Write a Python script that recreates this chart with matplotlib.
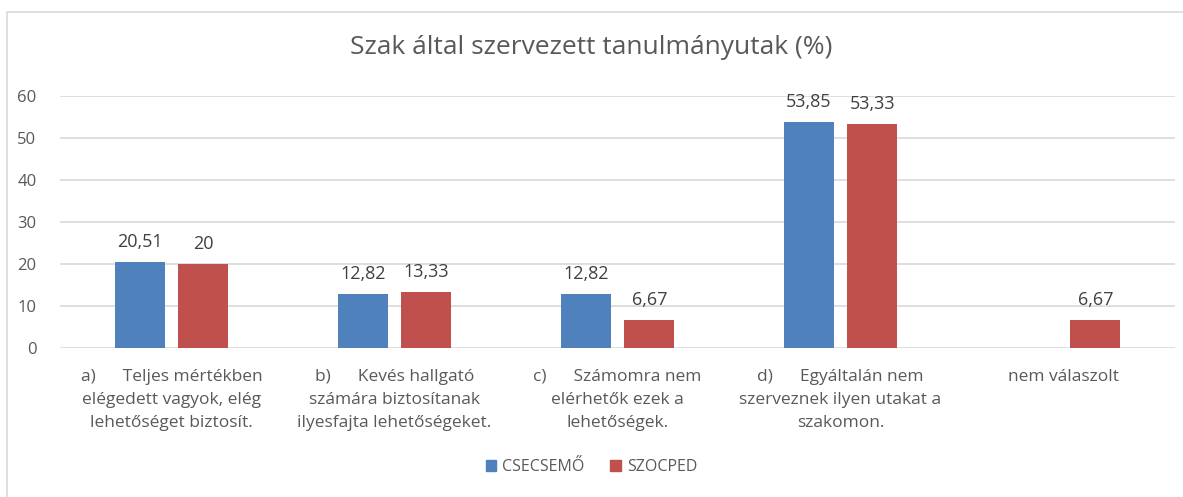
import matplotlib.pyplot as plt
import numpy as np
from matplotlib.patches import Rectangle

categories = [
    'a)      Teljes mértékben\nelégedett vagyok, elég\nlehetőséget biztosít.',
    'b)      Kevés hallgató\nszámára biztosítanak\nilyesfajta lehetőségeket.',
    'c)      Számomra nem\nelérhetők ezek a\nlehetőségek.',
    'd)      Egyáltalán nem\nszerveznek ilyen utakat a\nszakomon.',
    'nem válaszolt',
]
csecsemo = [20.51, 12.82, 12.82, 53.85, None]
szocped = [20, 13.33, 6.67, 53.33, 6.67]
series_names = ['CSECSEMŐ', 'SZOCPED']
colors = ['#4F81BD', '#C0504D']
yticks = [0, 10, 20, 30, 40, 50, 60]

plt.rcParams['font.family'] = ['Open Sans', 'DejaVu Sans']
txt = '#595959'

W, H = 1183, 497
fig = plt.figure(figsize=(W / 100, H / 100), dpi=100)
ax = fig.add_axes([60 / W, 1 - 348 / H, (1175 - 60) / W, (348 - 96) / H])

# chart frame
fig.patches.append(Rectangle((7 / W, -0.1), 1.2, 1.1 - 12 / H, transform=fig.transFigure,
                             fill=False, edgecolor='#D9D9D9', linewidth=1.2))

x = np.arange(len(categories))
w = 0.225
gap = 0.06
for i, (vals, col) in enumerate(zip([csecsemo, szocped], colors)):
    off = (-1 if i == 0 else 1) * (w + gap) / 2
    for xi, v in zip(x, vals):
        if v is None:
            continue
        ax.bar(xi + off, v, width=w, color=col, zorder=3)
        lab = ('%g' % v).replace('.', ',')
        ax.annotate(lab, (xi + off, v), xytext=(0, 8), textcoords='offset points',
                    ha='center', va='bottom', fontsize=13, color='#404040')

ax.set_xlim(-0.5, len(categories) - 0.5)
ax.set_ylim(0, 60)
ax.set_yticks(yticks)
ax.yaxis.grid(True, color='#D9D9D9', linewidth=1.2, zorder=0)
ax.set_axisbelow(True)
for s in ax.spines.values():
    s.set_visible(False)
ax.tick_params(axis='both', length=0, colors=txt)
ax.tick_params(axis='y', pad=17, labelsize=12)
ax.set_xticks(x)
ax.set_xticklabels(categories, fontsize=12.5, color=txt, linespacing=1.6)
ax.tick_params(axis='x', pad=15)

fig.text(0.5, 1 - 47 / H, 'Szak által szervezett tanulmányutak (%)', ha='center', va='center',
         fontsize=19, color=txt)

handles = [Rectangle((0, 0), 1, 1, color=c) for c in colors]
fig.legend(handles, series_names, loc='center', bbox_to_anchor=(0.5, 1 - 467 / H), ncol=2,
           frameon=False, fontsize=11.5, labelcolor=txt, handlelength=0.65, handleheight=0.65,
           handletextpad=0.4, columnspacing=1.6)

fig.savefig('out.png', dpi=100)
